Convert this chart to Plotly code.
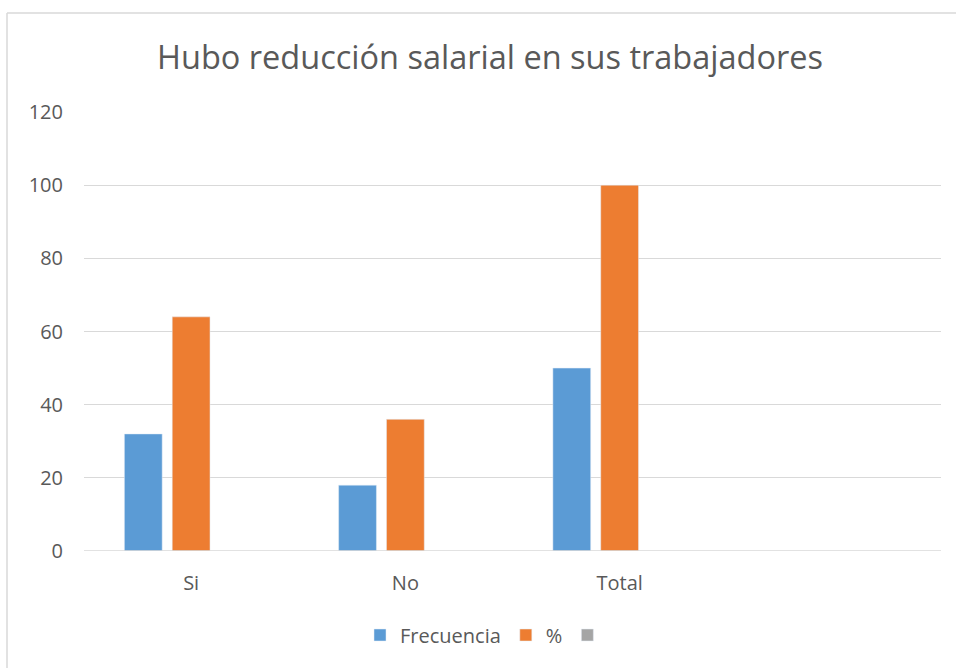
import plotly.graph_objects as go

categories = ["Si", "No", "Total"]
frecuencia = [32, 18, 50]
porcentaje = [64, 36, 100]
tercera = [None, None, None]
y_ticks = [0, 20, 40, 60, 80, 100, 120]

xpos = list(range(len(categories)))

fig = go.Figure()
fig.add_bar(x=xpos, y=frecuencia, name="Frecuencia", marker_color="#5B9BD5")
fig.add_bar(x=xpos, y=porcentaje, name="%", marker_color="#ED7D31")
fig.add_bar(x=xpos, y=tercera, name=" ", marker_color="#A5A5A5")

L, R, T, B = 84, 15, 112, 117
W, H = 956, 668
pw, ph = W - L - R, H - T - B

def px(x):
    return (x - L) / pw

def py(y):
    return (H - B - y) / ph

fig.update_layout(
    width=W, height=H,
    margin=dict(l=L, r=R, t=T, b=B),
    paper_bgcolor="white", plot_bgcolor="white",
    barmode="group", bargap=0.33, bargroupgap=0.21,
    font=dict(family="Open Sans", color="#595959"),
    title=dict(text="Hubo reducción salarial en sus trabajadores",
               xref="paper", x=px(490), xanchor="center",
               y=1 - 58 / H, yanchor="middle",
               font=dict(size=32.5, color="#595959")),
    xaxis=dict(range=[-0.5, 3.5], tickvals=xpos, ticktext=categories,
               showgrid=False, zeroline=False, showline=False, ticks="",
               ticklabelstandoff=18,
               tickfont=dict(size=20, color="#595959")),
    yaxis=dict(range=[0, 120], tickvals=y_ticks, showgrid=True,
               gridcolor="#D9D9D9", gridwidth=1, zeroline=False, showline=False,
               ticks="", ticklabelstandoff=20,
               tickfont=dict(size=20, color="#595959")),
    legend=dict(orientation="h", x=px(489), xanchor="center",
                y=py(635), yanchor="middle",
                font=dict(size=20, color="#595959"), itemwidth=30,
                traceorder="normal"),
    showlegend=True,
    shapes=[
        dict(type="line", xref="paper", yref="paper", x0=px(7), x1=px(956),
             y0=py(13), y1=py(13), line=dict(color="#D9D9D9", width=1.5)),
        dict(type="line", xref="paper", yref="paper", x0=px(7), x1=px(7),
             y0=py(13), y1=py(668), line=dict(color="#D9D9D9", width=1.5)),
        dict(type="line", xref="paper", yref="y", x0=0, x1=1, y0=0, y1=0,
             line=dict(color="#D9D9D9", width=1.5)),
    ],
)

fig.write_html("out.html", config={"displayModeBar": False},
               post_script="document.body.style.margin='0';document.body.style.overflow='hidden';")
